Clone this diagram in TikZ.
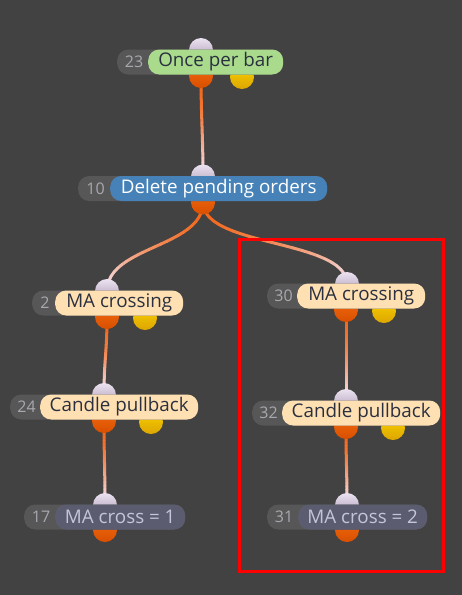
\documentclass[tikz,border=0pt]{standalone}
\usepackage{fontspec}
\setmainfont{Open Sans}
\usetikzlibrary{calc}
\definecolor{bgc}{HTML}{424242}
\definecolor{numgray}{HTML}{575757}
\definecolor{numtxt}{HTML}{A8A8B0}
\definecolor{lgreen}{HTML}{AADB8C}
\definecolor{lblue}{HTML}{4682B8}
\definecolor{lpeach}{HTML}{FFE0B2}
\definecolor{lslate}{HTML}{5C5C70}
\definecolor{dtext}{HTML}{2A3040}
\definecolor{slatetxt}{HTML}{C4C6D8}
\definecolor{portinT}{HTML}{ECE2F0}
\definecolor{portinB}{HTML}{A898B4}
\definecolor{portoutT}{HTML}{F26A10}
\definecolor{portoutB}{HTML}{D85000}
\definecolor{portyT}{HTML}{F8D000}
\definecolor{portyB}{HTML}{DDA600}
\definecolor{linkA}{HTML}{F26416}
\definecolor{linkB}{HTML}{F4E4F2}
\definecolor{frame}{HTML}{FF0000}
\tikzset{
  numbox/.style={fill=numgray, rounded corners=11pt, minimum height=25pt, inner sep=0pt, draw=none},
  numtext/.style={text=numtxt, font=\fontsize{16}{16}\selectfont, inner sep=0pt},
  lbl/.style={rounded corners=11pt, minimum height=25pt, inner sep=0pt, draw=none, font=\fontsize{18.8}{18.8}\selectfont},
  greenlbl/.style={lbl, fill=lgreen, text=dtext},
  bluelbl/.style={lbl, fill=lblue, text=white},
  peachlbl/.style={lbl, fill=lpeach, text=dtext},
  slatelbl/.style={lbl, fill=lslate, text=slatetxt},
  portin/.style={top color=portinT, bottom color=portinB},
  portout/.style={top color=portoutT, bottom color=portoutB},
  porty/.style={top color=portyT, bottom color=portyB},
  linkseg/.style={line width=3pt, line cap=round},
  framebox/.style={draw=frame, line width=3.5pt}
}
% #1 name, #2 x1, #3 label start, #4 x2, #5 centre y, #6 number, #7 label, #8 style
\newcommand\wfnode[8]{%
  \node[numbox, anchor=west, minimum width={(#4)-(#2)}] (#1box) at (#2,#5) {};
  \node[numtext] (#1num) at ({((#2)+(#3))/2+1.5},#5) {#6};
  \node[#8, anchor=west, minimum width={(#4)-(#3)}] (#1) at (#3,#5) {#7};
}
% #1 from, #2 to, #3 control length
\newcommand\gradlink[3]{%
  \path (#1) .. controls +(0,#3) and +(0,-#3) .. (#2)
    foreach \k [evaluate=\k as \pp using \k/24] in {0,...,24}{coordinate[pos=\pp] (gl\k)};
  \foreach \k [evaluate=\k as \kn using int(\k+1), evaluate=\k as \pc using int(100*(1-((\k+0.5)/24)^1.7))] in {0,...,23}
    {\draw[linkseg, color=linkA!\pc!linkB] (gl\k) -- (gl\kn);}
}
\begin{document}
\begin{tikzpicture}[x=1pt,y=-1pt]
\fill[bgc] (0,0) rectangle (462,595);
\useasboundingbox (0,0) rectangle (462,595);
% ports
\coordinate (Ain) at (201,50);  \coordinate (Aout) at (201,76);  \coordinate (Ay) at (242,77);
\coordinate (Bin) at (203,176.5); \coordinate (Bout) at (203,202.5);
\coordinate (Cin) at (107,291); \coordinate (Cout) at (107,317); \coordinate (Cy) at (145,318);
\coordinate (Din) at (347,284); \coordinate (Dout) at (346,310); \coordinate (Dy) at (384,311);
\coordinate (Ein) at (104,395); \coordinate (Eout) at (104,421); \coordinate (Ey) at (151,422);
\coordinate (Fin) at (346,401); \coordinate (Fout) at (346,427); \coordinate (Fy) at (393,428);
\coordinate (Gin) at (105,505); \coordinate (Gout) at (105,530);
\coordinate (Hin) at (347,505); \coordinate (Hout) at (347,530);
% connectors
\gradlink{Aout}{Bin}{40}
\gradlink{Bout}{Cin}{45}
\gradlink{Bout}{Din}{45}
\gradlink{Cout}{Ein}{35}
\gradlink{Dout}{Fin}{35}
\gradlink{Eout}{Gin}{35}
\gradlink{Fout}{Hin}{35}
% port circles
\foreach \p in {Ain,Bin,Cin,Din,Ein,Fin,Gin,Hin} {\shade[portin] (\p) circle (12);}
\foreach \p in {Aout,Bout,Cout,Dout,Eout,Fout,Gout,Hout} {\shade[portout] (\p) circle (12);}
\foreach \p in {Ay,Cy,Dy,Ey,Fy} {\shade[porty] (\p) circle (12);}
% nodes
\wfnode{A}{117}{148}{283}{62}{23}{Once per bar}{greenlbl}
\wfnode{B}{78}{110}{327}{188.5}{10}{Delete pending orders}{bluelbl}
\wfnode{C}{32}{55}{183}{303}{2}{MA crossing}{peachlbl}
\wfnode{D}{267}{297}{425}{296}{30}{MA crossing}{peachlbl}
\wfnode{E}{10}{40}{198}{407}{24}{Candle pullback}{peachlbl}
\wfnode{F}{252}{282}{440}{413}{32}{Candle pullback}{peachlbl}
\wfnode{G}{24}{55}{185}{517}{17}{MA cross = 1}{slatelbl}
\wfnode{H}{267}{298}{427}{517}{31}{MA cross = 2}{slatelbl}
% highlight frame
\draw[framebox] (239.5,239.5) rectangle (443.5,571.5);
\end{tikzpicture}
\end{document}
